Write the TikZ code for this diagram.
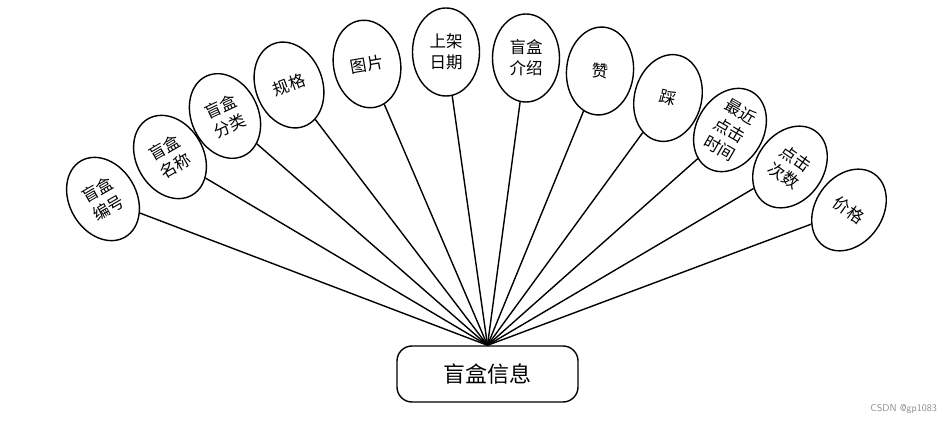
\documentclass[tikz,border=0pt]{standalone}
\usepackage{fontspec}
\newfontfamily\cjk{Noto Sans CJK SC}
\usetikzlibrary{shapes.geometric}
\begin{document}
\begin{tikzpicture}[x=1pt,y=-1pt,
  attr/.style={draw, ellipse, line width=1.4pt, minimum width=67pt, minimum height=88pt,
    inner sep=0pt, align=center, font=\cjk\fontsize{16.5}{21}\selectfont},
  mainbox/.style={draw, rounded corners=15pt, line width=1.4pt, minimum width=181pt,
    minimum height=56pt, inner sep=0pt, font=\cjk\fontsize{22}{24}\selectfont},
  link/.style={line width=1.4pt}]
\useasboundingbox (0,0) rectangle (951,425);
\node[mainbox] (main) at (487.5,374) {盲盒信息};
\node[attr, rotate=30]  (e1)  at (103,199) {盲盒\\编号};
\node[attr, rotate=30]  (e2)  at (170,157) {盲盒\\名称};
\node[attr, rotate=25]  (e3)  at (225,116) {盲盒\\分类};
\node[attr, rotate=20]  (e4)  at (289,85)  {规格};
\node[attr, rotate=10]  (e5)  at (367,64)  {图片};
\node[attr, rotate=0]   (e6)  at (446,52)  {上架\\日期};
\node[attr, rotate=0]   (e7)  at (526,58)  {盲盒\\介绍};
\node[attr, rotate=-5]  (e8)  at (600,71)  {赞};
\node[attr, rotate=-15] (e9)  at (668,98)  {踩};
\node[attr, rotate=-30] (e10) at (730,130) {最近\\点击\\时间};
\node[attr, rotate=-35] (e11) at (790,167) {点击\\次数};
\node[attr, rotate=-35] (e12) at (849,210) {价格};
\foreach \i in {1,...,12} { \draw[link] (e\i) -- (main.north); }
\node[font=\sffamily\fontsize{10}{12}\selectfont, text=black!45, anchor=east, inner sep=0pt] (wm) at (937,409) {CSDN @gp1083};
\end{tikzpicture}
\end{document}
